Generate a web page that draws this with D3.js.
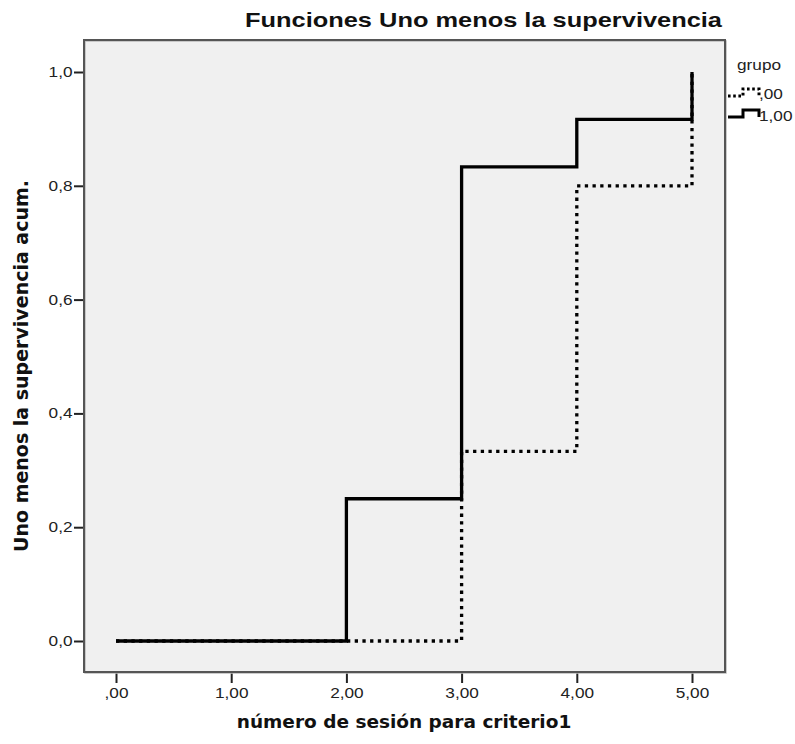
<!DOCTYPE html>
<html>
<head>
<meta charset="utf-8">
<script src="https://cdn.jsdelivr.net/npm/d3@7"></script>
<style>
  html, body { margin: 0; padding: 0; background: #ffffff; }
  svg { display: block; }
</style>
</head>
<body>
<svg id="chart" width="795" height="744"></svg>
<script>
// Kaplan-Meier style cumulative incidence (1 - survival), step functions
const groupLabels = [",00", "1,00"];
const times00 = [0, 3, 4, 5];
const values00 = [0, 0.3333, 0.8, 1.0];
const times10 = [0, 2, 3, 4, 5];
const values10 = [0, 0.25, 0.8333, 0.9167, 1.0];
const xTicks = [0, 1, 2, 3, 4, 5];
const yTicks = [0, 0.2, 0.4, 0.6, 0.8, 1.0];

const svg = d3.select("#chart");
const frame = { left: 84, top: 40, right: 725, bottom: 672 };
const sans = "'Liberation Sans', Arial, sans-serif";
const wide = 1.23; // horizontal stretch of the regular labels

const x = d3.scaleLinear().domain([0, 5]).range([116, 692]);
const y = d3.scaleLinear().domain([0, 1]).range([641, 72]);

const fmtX = d => (d === 0 ? ",00" : d.toFixed(2).replace(".", ","));
const fmtY = d => d.toFixed(1).replace(".", ",");

// plot background
svg.append("rect")
  .attr("x", frame.left).attr("y", frame.top)
  .attr("width", frame.right - frame.left).attr("height", frame.bottom - frame.top)
  .attr("fill", "#f0f0f0");

// axes
const yAxis = d3.axisLeft(y).tickValues(yTicks).tickFormat(fmtY).tickSize(10).tickPadding(0);
const gy = svg.append("g").attr("transform", `translate(${frame.left},0)`).call(yAxis);
const xAxis = d3.axisBottom(x).tickValues(xTicks).tickFormat(fmtX).tickSize(11).tickPadding(5);
const gx = svg.append("g").attr("transform", `translate(0,${frame.bottom})`).call(xAxis);
[gx, gy].forEach(g => {
  g.select(".domain").remove();
  g.selectAll(".tick line").attr("stroke", "#222").attr("stroke-width", 2);
  g.selectAll(".tick text")
    .attr("fill", "#222")
    .attr("transform", `scale(${wide},1)`)
    .style("font-family", sans)
    .style("font-size", "14px");
});
gy.selectAll(".tick text").attr("x", -11.5 / wide);

// step lines
const line = d3.line()
  .x(d => x(d[0]))
  .y(d => y(d[1]))
  .curve(d3.curveStepAfter);

svg.append("path")
  .datum(d3.zip(times00, values00))
  .attr("d", line)
  .attr("fill", "none")
  .attr("stroke", "#000")
  .attr("stroke-width", 3.3)
  .attr("stroke-dasharray", "3.3,4.4");

svg.append("path")
  .datum(d3.zip(times10, values10))
  .attr("d", line)
  .attr("fill", "none")
  .attr("stroke", "#000")
  .attr("stroke-width", 3.3)
  .attr("stroke-linejoin", "miter");

// frame
svg.append("rect")
  .attr("x", frame.left + 1).attr("y", frame.top + 1)
  .attr("width", frame.right - frame.left).attr("height", frame.bottom - frame.top)
  .attr("fill", "none").attr("stroke", "#bbb").attr("stroke-width", 1.5);
svg.append("rect")
  .attr("x", frame.left).attr("y", frame.top)
  .attr("width", frame.right - frame.left).attr("height", frame.bottom - frame.top)
  .attr("fill", "none").attr("stroke", "#555").attr("stroke-width", 2);

// title
svg.append("text")
  .attr("x", 245).attr("y", 27)
  .attr("textLength", 477)
  .attr("lengthAdjust", "spacingAndGlyphs")
  .style("font-family", sans)
  .style("font-weight", "bold")
  .style("font-size", "21px")
  .attr("fill", "#111")
  .text("Funciones Uno menos la supervivencia");

// axis titles
svg.append("text")
  .attr("x", 404).attr("y", 728)
  .attr("text-anchor", "middle")
  .style("font-family", "'DejaVu Sans', Verdana, sans-serif")
  .style("font-weight", "bold")
  .style("font-size", "18.5px")
  .attr("fill", "#111")
  .text("número de sesión para criterio1");

svg.append("text")
  .attr("transform", "translate(28,366) rotate(-90)")
  .attr("text-anchor", "middle")
  .style("font-family", "'DejaVu Sans', Verdana, sans-serif")
  .style("font-weight", "bold")
  .style("font-size", "19px")
  .attr("fill", "#111")
  .text("Uno menos la supervivencia acum.");

// legend
const legend = svg.append("g");
const legendText = (tx, ty, s) => legend.append("text")
  .attr("transform", `translate(${tx},${ty}) scale(${wide},1)`)
  .style("font-family", sans)
  .style("font-size", "14px")
  .attr("fill", "#222")
  .text(s);

legendText(737, 70, "grupo");

const legendItems = [
  { label: groupLabels[0], dash: "2.6,2.6", low: 96, high: 89, ty: 99 },
  { label: groupLabels[1], dash: null, low: 117, high: 110, ty: 121 }
];
legendItems.forEach(it => {
  const p = legend.append("path")
    .attr("d", `M728,${it.low}H743V${it.high}H759V${it.low}`)
    .attr("fill", "none")
    .attr("stroke", "#000")
    .attr("stroke-width", 3);
  if (it.dash) p.attr("stroke-dasharray", it.dash);
  legendText(759, it.ty, it.label);
});
</script>
</body>
</html>
